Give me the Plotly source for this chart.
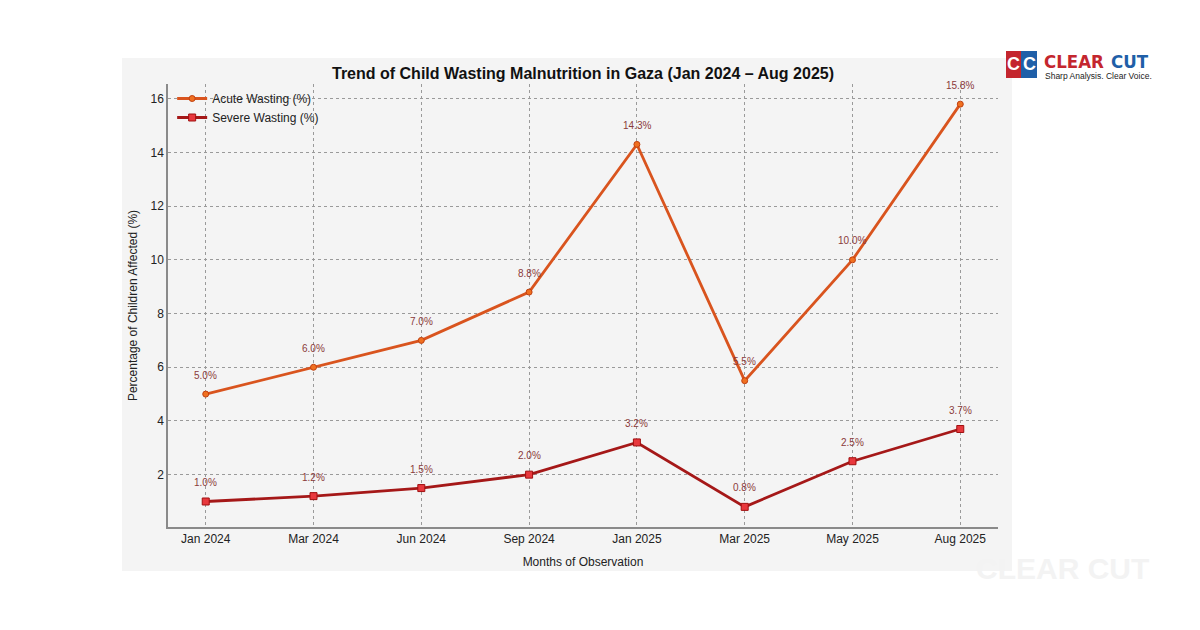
import plotly.graph_objects as go

months = ["Jan 2024", "Mar 2024", "Jun 2024", "Sep 2024", "Jan 2025", "Mar 2025", "May 2025", "Aug 2025"]
acute = [5.0, 6.0, 7.0, 8.8, 14.3, 5.5, 10.0, 15.8]
severe = [1.0, 1.2, 1.5, 2.0, 3.2, 0.8, 2.5, 3.7]
y_ticks = [2, 4, 6, 8, 10, 12, 14, 16]

O = 8  # page body offset
W, H = 1200 - O, 630 - O
ML = 168 - O
MT = 84 - O
MR = W - (998 - O)
MB = H - (527 - O)


def px_x(px):
    return (px - O - ML) / (W - ML - MR)


def px_y(py):
    return (H - MB - (py - O)) / (H - MT - MB)


fig = go.Figure()
fig.add_trace(go.Scatter(
    x=months, y=acute, name="Acute Wasting (%)", mode="lines+markers",
    line=dict(color="#d9541e", width=2.8),
    marker=dict(symbol="circle", size=6, color="#f07020", line=dict(color="#c04010", width=1)),
))
fig.add_trace(go.Scatter(
    x=months, y=severe, name="Severe Wasting (%)", mode="lines+markers",
    line=dict(color="#a51818", width=2.8),
    marker=dict(symbol="square", size=7, color="#e8383d", line=dict(color="#a01010", width=1)),
))

lab_font = dict(size=10, color="#8b3a3a", family="Liberation Sans")
annotations = []
for m, v in zip(months, acute):
    annotations.append(dict(x=m, y=v, xref="x", yref="y", text=f"{v:.1f}%", showarrow=False,
                            yshift=19, font=lab_font))
for m, v in zip(months, severe):
    annotations.append(dict(x=m, y=v, xref="x", yref="y", text=f"{v:.1f}%", showarrow=False,
                            yshift=19, font=lab_font))

logo_font = "Liberation Sans Narrow, DejaVu Sans Condensed, Liberation Sans"
annotations.append(dict(xref="paper", yref="paper", x=px_x(1042), y=px_y(61),
                        xanchor="left", yanchor="middle", showarrow=False,
                        text="<b>CLEAR</b>", font=dict(size=18.5, color="#c4262e", family=logo_font)))
annotations.append(dict(xref="paper", yref="paper", x=px_x(1151), y=px_y(61),
                        xanchor="right", yanchor="middle", showarrow=False,
                        text="<b>CUT</b>", font=dict(size=18.5, color="#1f5fa8", family=logo_font)))
annotations.append(dict(xref="paper", yref="paper", x=px_x(1043), y=px_y(76),
                        xanchor="left", yanchor="middle", showarrow=False,
                        text="Sharp Analysis. Clear Voice.", font=dict(size=8.5, color="#222", family="Liberation Sans")))
annotations.append(dict(xref="paper", yref="paper", x=px_x(1014), y=px_y(64),
                        xanchor="center", yanchor="middle", showarrow=False,
                        text="<b>C</b>", font=dict(size=18, color="white", family="Liberation Sans")))
annotations.append(dict(xref="paper", yref="paper", x=px_x(1029), y=px_y(64),
                        xanchor="center", yanchor="middle", showarrow=False,
                        text="<b>C</b>", font=dict(size=18, color="white", family="Liberation Sans")))
annotations.append(dict(xref="paper", yref="paper", x=px_x(1062), y=px_y(568),
                        xanchor="center", yanchor="middle", showarrow=False,
                        text="<b>CLEAR CUT</b>", font=dict(size=30, color="#f3f3f3", family="Liberation Sans")))

shapes = [
    dict(type="rect", xref="paper", yref="paper", x0=px_x(122), x1=px_x(1012), y0=px_y(571), y1=px_y(58),
         fillcolor="#f4f4f4", line=dict(width=0), layer="below"),
    dict(type="rect", xref="paper", yref="paper", x0=px_x(1006), x1=px_x(1021), y0=px_y(78), y1=px_y(51),
         fillcolor="#c4262e", line=dict(width=0)),
    dict(type="rect", xref="paper", yref="paper", x0=px_x(1021), x1=px_x(1037), y0=px_y(78), y1=px_y(51),
         fillcolor="#1f5fa8", line=dict(width=0)),
]

fig.update_layout(
    width=W, height=H,
    paper_bgcolor="white", plot_bgcolor="rgba(0,0,0,0)",
    margin=dict(l=ML, r=MR, t=MT, b=MB),
    font=dict(family="Liberation Sans, Arial, sans-serif", size=12, color="#222"),
    title=dict(text="<b>Trend of Child Wasting Malnutrition in Gaza (Jan 2024 – Aug 2025)</b>",
               x=px_x(583), xref="paper", xanchor="center", y=1 - (73 - O) / H, yanchor="middle",
               font=dict(size=16, color="#111")),
    showlegend=True,
    legend=dict(x=0.005, y=1.0, xanchor="left", yanchor="top", bgcolor="rgba(0,0,0,0)",
                font=dict(size=12, color="#222"), itemwidth=30, tracegroupgap=0),
    xaxis=dict(type="category", categoryorder="array", categoryarray=months, range=[-0.35, 7.35],
               showgrid=True, gridcolor="#9a9a9a", griddash="dot", gridwidth=1,
               showline=True, linecolor="#8a8a8a", linewidth=1.5, mirror=False,
               ticks="", tickfont=dict(size=12, color="#222"),
               title=dict(text="Months of Observation", font=dict(size=12, color="#222"), standoff=12),
               zeroline=False),
    yaxis=dict(range=[0.05, 16.55], tickmode="array", tickvals=y_ticks,
               showgrid=True, gridcolor="#9a9a9a", griddash="dot", gridwidth=1,
               showline=True, linecolor="#8a8a8a", linewidth=1.5, mirror=False,
               ticks="", tickfont=dict(size=12, color="#222"),
               title=dict(text="Percentage of Children Affected (%)", font=dict(size=12, color="#222"), standoff=10),
               zeroline=False),
    annotations=annotations, shapes=shapes,
)

fig.write_html("out.html")
